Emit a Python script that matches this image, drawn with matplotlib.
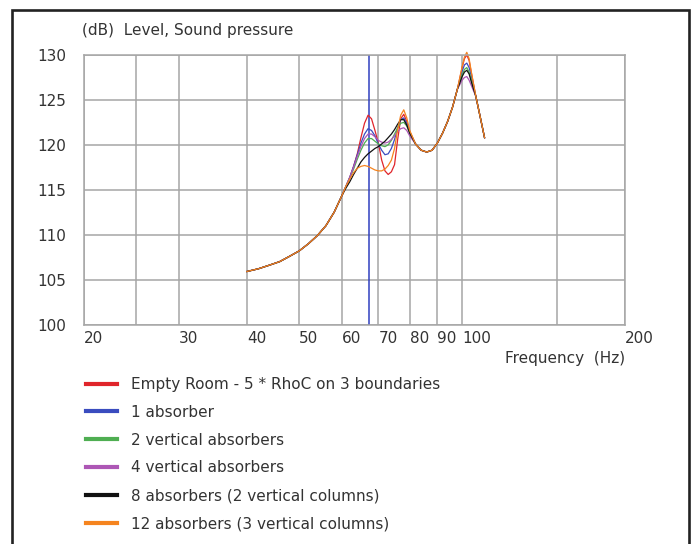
import matplotlib

matplotlib.use("Agg")
import matplotlib.pyplot as plt
import matplotlib.ticker as ticker
from matplotlib.patches import Rectangle

# frequencies (Hz) shared by all six curves
FREQS = [40, 42, 44, 46, 48, 50, 52, 54, 56, 58, 60,
         61, 62, 63, 64, 65, 66, 67, 68, 69, 70,
         71, 72, 73, 74, 75, 76, 77, 78, 79, 80,
         82, 84, 86, 88, 90, 92, 94, 96, 98,
         100, 101, 102, 103, 104,
         106, 108, 110]

# parts where the curves lie on top of each other
LOW_DB = [105.9, 106.2, 106.6, 107.0, 107.6, 108.2, 109.0, 109.9, 111.0, 112.5, 114.4]
MID_DB = [120.1, 119.4, 119.2, 119.4, 120.2, 121.3, 122.6, 124.2, 126.2]
TAIL_DB = [125.4, 123.1, 120.8]

# 61..80 Hz and 100..104 Hz, per configuration
RED_MODE = [115.4, 116.4, 117.6, 119.0, 120.8, 122.4, 123.3, 122.9, 121.6, 120.2,
            118.3, 117.1, 116.7, 117.0, 117.8, 120.6, 122.9, 123.4, 122.6, 121.5]
RED_PEAK = [128.6, 129.6, 130.0, 129.4, 128.0]
BLUE_MODE = [115.4, 116.4, 117.6, 118.9, 120.2, 121.2, 121.8, 121.6, 121.0, 120.1,
             119.4, 118.9, 119.0, 119.6, 120.6, 121.9, 122.8, 123.0, 122.4, 121.4]
BLUE_PEAK = [128.2, 128.9, 129.1, 128.6, 127.6]
GREEN_MODE = [115.4, 116.3, 117.3, 118.4, 119.4, 120.2, 120.7, 120.7, 120.4, 120.1,
              119.9, 119.8, 120.0, 120.5, 121.2, 121.9, 122.4, 122.5, 122.1, 121.3]
GREEN_PEAK = [127.8, 128.4, 128.6, 128.1, 127.2]
PURPLE_MODE = [115.4, 116.4, 117.5, 118.7, 119.8, 120.7, 121.2, 121.2, 120.9, 120.5,
               120.3, 120.2, 120.3, 120.6, 121.0, 121.5, 121.8, 121.9, 121.6, 121.0]
PURPLE_PEAK = [127.2, 127.5, 127.6, 127.2, 126.6]
BLACK_MODE = [115.2, 115.9, 116.7, 117.4, 118.1, 118.6, 119.0, 119.3, 119.6, 119.8,
              120.1, 120.4, 120.8, 121.2, 121.7, 122.3, 122.8, 122.8, 122.2, 121.3]
BLACK_PEAK = [127.6, 128.1, 128.3, 127.9, 127.0]
ORANGE_MODE = [115.4, 116.2, 116.9, 117.4, 117.6, 117.7, 117.6, 117.4, 117.2, 117.1,
               117.1, 117.3, 117.7, 118.3, 119.6, 121.7, 123.3, 123.9, 123.0, 121.6]
ORANGE_PEAK = [128.7, 129.8, 130.3, 129.6, 128.1]

LABELS = [
    "Empty Room - 5 * RhoC on 3 boundaries",
    "1 absorber",
    "2 vertical absorbers",
    "4 vertical absorbers",
    "8 absorbers (2 vertical columns)",
    "12 absorbers (3 vertical columns)",
]
COLORS = ["#e0252b", "#3a4cbf", "#4fae52", "#ad57b5", "#111111", "#f5841f"]

MARKER_FREQ = 67.3
X_TICKS = [20, 30, 40, 50, 60, 70, 80, 90, 100, 200]
X_MINOR = [25, 150]
Y_TICKS = [100, 105, 110, 115, 120, 125, 130]


def series(mode, peak):
    return LOW_DB + mode + MID_DB + peak + TAIL_DB


curves = [
    series(RED_MODE, RED_PEAK),
    series(BLUE_MODE, BLUE_PEAK),
    series(GREEN_MODE, GREEN_PEAK),
    series(PURPLE_MODE, PURPLE_PEAK),
    series(BLACK_MODE, BLACK_PEAK),
    series(ORANGE_MODE, ORANGE_PEAK),
]

W, H = 696, 544
FS = 11
fig = plt.figure(figsize=(W / 100, H / 100), dpi=100)
ax = fig.add_axes([84 / W, 1 - 324.5 / H, (625 - 84) / W, (324.5 - 55) / H])

text_color = "#333333"
grid_color = "#a6a6a6"

for values, color, label in zip(curves, COLORS, LABELS):
    ax.plot(FREQS, values, color=color, linewidth=0.9, label=label, clip_on=False)

ax.axvline(MARKER_FREQ, color="#3040c0", linewidth=1.1, zorder=1)

ax.set_xscale("log")
ax.set_xlim(20, 200)
ax.set_ylim(100, 130)
ax.xaxis.set_major_locator(ticker.FixedLocator(X_TICKS))
ax.xaxis.set_major_formatter(ticker.FixedFormatter([str(v) for v in X_TICKS]))
ax.xaxis.set_minor_locator(ticker.FixedLocator(X_MINOR))
ax.xaxis.set_minor_formatter(ticker.NullFormatter())
ax.set_yticks(Y_TICKS)
ax.grid(True, which="both", color=grid_color, linewidth=1.1, zorder=0)
ax.set_axisbelow(True)
ax.tick_params(which="both", length=0, labelsize=FS, labelcolor=text_color)
ax.tick_params(axis="x", pad=5)
ax.tick_params(axis="y", pad=13)
for lbl in ax.get_xticklabels():
    lbl.set_horizontalalignment("left")
for spine in ax.spines.values():
    spine.set_color(grid_color)
    spine.set_linewidth(1.1)

fig.text(82 / W, 1 - 30 / H, "(dB)  Level, Sound pressure", fontsize=FS,
         color=text_color, va="center", ha="left")
fig.text(625 / W, 1 - 358 / H, "Frequency  (Hz)", fontsize=FS,
         color=text_color, va="center", ha="right")

leg = fig.legend(loc="upper left", bbox_to_anchor=(86 / W, 1 - 377 / H),
                 frameon=False, fontsize=FS, handlelength=2.0, handletextpad=0.94,
                 labelspacing=0.84, borderpad=0, borderaxespad=0)
for text in leg.get_texts():
    text.set_color(text_color)
for line in leg.get_lines():
    line.set_linewidth(3)

fig.add_artist(Rectangle((12 / W, -0.05), (689 - 12) / W, 1.05 - 10 / H,
                         transform=fig.transFigure, fill=False,
                         edgecolor="#222222", linewidth=1.9))

fig.savefig("out.png", dpi=100)
